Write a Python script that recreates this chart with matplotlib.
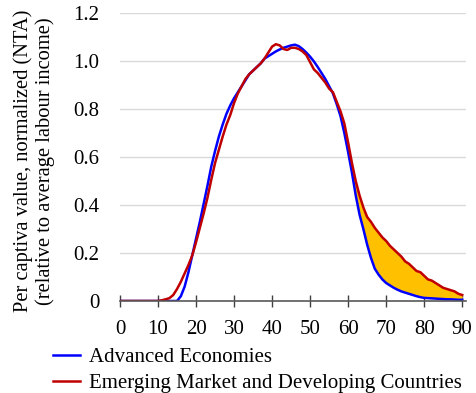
import numpy as np
import matplotlib.pyplot as plt

plt.rcParams['font.family'] = ['Liberation Serif', 'DejaVu Serif']

ages = np.arange(0, 91)

advanced = [0, 0, 0, 0, 0, 0, 0, 0, 0, 0,
            0, 0, 0, 0, 0, 0, 0.02, 0.06, 0.12, 0.19,
            0.26, 0.33, 0.405, 0.48, 0.56, 0.625, 0.685, 0.735, 0.78, 0.815,
            0.845, 0.87, 0.895, 0.92, 0.945, 0.96, 0.975, 0.99, 1.01, 1.02,
            1.03, 1.04, 1.048, 1.055, 1.06, 1.065, 1.068, 1.062, 1.05, 1.035,
            1.018, 0.998, 0.975, 0.95, 0.925, 0.895, 0.865, 0.82, 0.77, 0.70,
            0.62, 0.535, 0.44, 0.36, 0.30, 0.235, 0.18, 0.135, 0.11, 0.09,
            0.075, 0.065, 0.055, 0.047, 0.04, 0.035, 0.03, 0.025, 0.02, 0.016,
            0.013, 0.012, 0.011, 0.01, 0.009, 0.008, 0.007, 0.007, 0.006, 0.005,
            0.005]

emerging = [0, 0, 0, 0, 0, 0, 0, 0, 0, 0,
            0, 0.003, 0.007, 0.012, 0.025, 0.05, 0.08, 0.115, 0.15, 0.19,
            0.245, 0.305, 0.365, 0.43, 0.505, 0.575, 0.63, 0.685, 0.735, 0.775,
            0.825, 0.865, 0.895, 0.925, 0.945, 0.96, 0.975, 0.99, 1.01, 1.035,
            1.06, 1.07, 1.065, 1.05, 1.046, 1.055, 1.055, 1.05, 1.04, 1.025,
            0.995, 0.965, 0.95, 0.93, 0.91, 0.885, 0.87, 0.83, 0.79, 0.74,
            0.66, 0.575, 0.50, 0.44, 0.39, 0.35, 0.33, 0.305, 0.285, 0.265,
            0.25, 0.23, 0.215, 0.2, 0.185, 0.165, 0.155, 0.14, 0.125, 0.12,
            0.105, 0.09, 0.085, 0.075, 0.065, 0.055, 0.05, 0.045, 0.04, 0.03,
            0.025]

advanced = np.array(advanced)
emerging = np.array(emerging)

fig = plt.figure(figsize=(4.77, 3.93), dpi=100)
ax = fig.add_axes([120 / 477, 92 / 393, 346 / 477, 288 / 393])

# gap between the two curves at old ages
ax.fill_between(ages, advanced, emerging, where=(ages >= 60) & (emerging >= advanced),
                color='#FFC000', interpolate=True, linewidth=0)
ax.plot(ages, advanced, color='#0000FF', lw=1.8, label='Advanced Economies')
ax.plot(ages, emerging, color='#C00000', lw=1.8, label='Emerging Market and Developing Countries')

ax.set_xlim(0, 91)
ax.set_ylim(0, 1.2)
ax.set_xticks(range(0, 91, 10))
ax.set_yticks([0, 0.2, 0.4, 0.6, 0.8, 1.0, 1.2])
ax.set_yticklabels(['0', '0.2', '0.4', '0.6', '0.8', '1.0', '1.2'])
ax.grid(axis='y', color='#D9D9D9', lw=1)
ax.set_axisbelow(True)
for s in ['top', 'right', 'left']:
    ax.spines[s].set_visible(False)
ax.spines['bottom'].set_color('#595959')
ax.spines['bottom'].set_linewidth(1.2)
ax.tick_params(axis='x', direction='inout', length=8, width=1, color='#404040',
               labelsize=15, pad=10)
ax.tick_params(axis='y', length=0, labelsize=15, pad=15)

ax.set_ylabel('Per captiva value, normalized (NTA)\n(relative to average labour income)',
              fontsize=14.8, linespacing=1.15)
ax.yaxis.set_label_coords(-0.188, 0.486)

fig.legend(loc='lower left', bbox_to_anchor=(49 / 477, -4 / 393), frameon=False,
           fontsize=15, handlelength=1.3, handletextpad=0.4, labelspacing=0.3,
           borderpad=0.2, borderaxespad=0)

fig.savefig('out.png', dpi=100)
